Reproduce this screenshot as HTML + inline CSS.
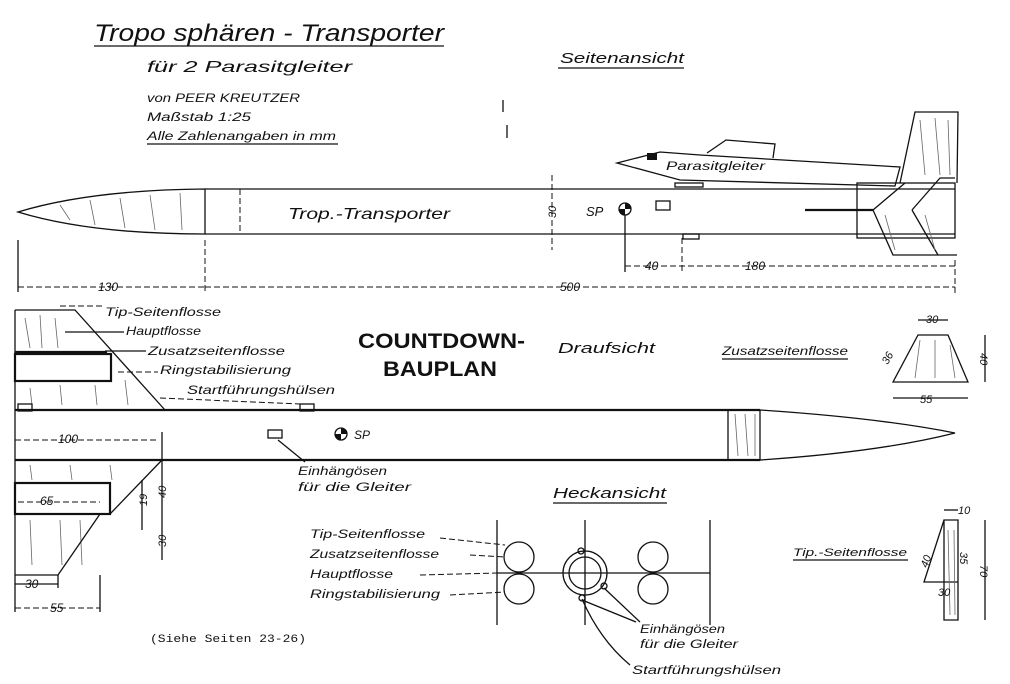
<!DOCTYPE html>
<html><head><meta charset="utf-8"><style>
html,body{margin:0;padding:0;background:#fff}
svg{display:block}
text{font-family:"Liberation Sans",sans-serif;font-style:italic;fill:#111}
.l{stroke:#111;fill:none;stroke-width:1.3}
.t{stroke:#111;fill:none;stroke-width:2.2}
.d{stroke:#111;fill:none;stroke-width:1;stroke-dasharray:6 3}
.h{stroke:#666;stroke-width:0.8}
</style></head><body>
<svg width="1010" height="684" viewBox="0 0 1010 684" xmlns="http://www.w3.org/2000/svg">
<!-- Titles -->
<text x="94" y="41" font-size="24" textLength="350" lengthAdjust="spacingAndGlyphs">Tropo sphären - Transporter</text>
<line x1="94" y1="46" x2="444" y2="46" class="l"/>
<text x="147" y="72" font-size="16" textLength="205" lengthAdjust="spacingAndGlyphs">für  2  Parasitgleiter</text>
<text x="147" y="102" font-size="12" textLength="153" lengthAdjust="spacingAndGlyphs">von PEER  KREUTZER</text>
<text x="147" y="121" font-size="12" textLength="104" lengthAdjust="spacingAndGlyphs">Maßstab  1:25</text>
<text x="147" y="140" font-size="12" textLength="189" lengthAdjust="spacingAndGlyphs">Alle  Zahlenangaben  in mm</text>
<line x1="147" y1="144" x2="338" y2="144" class="l"/>
<text x="560" y="63" font-size="15" textLength="124" lengthAdjust="spacingAndGlyphs">Seitenansicht</text>
<line x1="558" y1="68" x2="684" y2="68" class="l"/>
<line x1="503" y1="100" x2="503" y2="112" class="l"/>
<line x1="507" y1="125" x2="507" y2="138" class="l"/>

<!-- Side view -->
<path d="M18,212 Q90,190 205,189 L205,234 Q90,234 18,212 Z" class="l"/>
<g class="h"><line x1="60" y1="205" x2="70" y2="220"/><line x1="90" y1="200" x2="95" y2="225"/><line x1="120" y1="198" x2="125" y2="228"/><line x1="150" y1="195" x2="155" y2="230"/><line x1="180" y1="193" x2="182" y2="230"/></g>
<line x1="205" y1="189" x2="955" y2="189" class="l"/>
<line x1="205" y1="234" x2="955" y2="234" class="l"/>
<line x1="240" y1="189" x2="240" y2="234" class="d"/>
<text x="288" y="219" font-size="16" textLength="162" lengthAdjust="spacingAndGlyphs">Trop.-Transporter</text>
<line x1="552" y1="175" x2="552" y2="250" class="d"/>
<text x="548" y="218" font-size="11" transform="rotate(-90 552 214)">30</text>
<text x="586" y="216" font-size="13">SP</text>
<circle cx="625" cy="209" r="6" class="l"/><path d="M625,203 A6,6 0 0 1 631,209 L625,209 Z M625,215 A6,6 0 0 1 619,209 L625,209 Z" fill="#111"/>
<rect x="656" y="201" width="14" height="9" class="l"/>
<rect x="683" y="234" width="16" height="5" class="l"/>
<line x1="805" y1="210" x2="873" y2="210" class="t"/>
<rect x="857" y="183" width="98" height="55" class="l"/>
<path d="M873,210 L905,183 M873,210 L893,255 L957,255 M912,210 L938,255 M912,210 L940,178 L955,178" class="l"/>
<path d="M900,183 L915,112 L958,112 L957,183" class="l"/>
<g class="h"><line x1="920" y1="120" x2="925" y2="175"/><line x1="935" y1="118" x2="940" y2="175"/><line x1="948" y1="120" x2="950" y2="175"/><line x1="885" y1="215" x2="895" y2="250"/><line x1="925" y1="215" x2="935" y2="250"/></g>
<!-- glider -->
<path d="M617,163 L660,152 L700,155 L900,167 L895,186 L680,180 Z" class="l"/>
<path d="M707,153 L726,140 L775,144 L773,158" class="l"/>
<rect x="647" y="153" width="10" height="7" fill="#111"/>
<text x="666" y="170" font-size="12" textLength="99" lengthAdjust="spacingAndGlyphs">Parasitgleiter</text>
<rect x="675" y="183" width="28" height="4" class="l"/>
<!-- dims -->
<line x1="18" y1="240" x2="18" y2="292" class="l"/>
<line x1="205" y1="240" x2="205" y2="292" class="d"/>
<line x1="18" y1="287" x2="205" y2="287" class="d"/>
<text x="98" y="291" font-size="12">130</text>
<line x1="205" y1="287" x2="955" y2="287" class="d"/>
<text x="560" y="291" font-size="12">500</text>
<line x1="955" y1="260" x2="955" y2="295" class="d"/>
<line x1="625" y1="215" x2="625" y2="272" class="l"/>
<line x1="682" y1="238" x2="682" y2="272" class="d"/>
<line x1="625" y1="266" x2="955" y2="266" class="d"/>
<text x="645" y="270" font-size="12">40</text>
<text x="745" y="270" font-size="12">180</text>

<!-- Top view -->
<text x="358" y="348" font-size="21" font-weight="bold" style="font-style:normal" textLength="167" lengthAdjust="spacingAndGlyphs">COUNTDOWN-</text>
<text x="383" y="376" font-size="21" font-weight="bold" style="font-style:normal" textLength="114" lengthAdjust="spacingAndGlyphs">BAUPLAN</text>
<text x="558" y="353" font-size="15" textLength="97" lengthAdjust="spacingAndGlyphs">Draufsicht</text>
<line x1="15" y1="310" x2="15" y2="575" class="l"/>
<path d="M15,310 L75,310 L165,410" class="l"/>
<line x1="15" y1="352" x2="107" y2="352" class="t"/>
<rect x="15" y="354" width="96" height="27" class="t"/>
<line x1="15" y1="410" x2="760" y2="410" class="t"/>
<line x1="15" y1="460" x2="760" y2="460" class="t"/>
<path d="M760,410 Q880,418 955,433 Q880,452 760,460" class="l"/>
<rect x="728" y="410" width="32" height="50" class="l"/>
<g class="h"><line x1="735" y1="414" x2="738" y2="456"/><line x1="745" y1="414" x2="748" y2="456"/><line x1="755" y1="414" x2="755" y2="456"/></g>
<g class="h"><line x1="25" y1="318" x2="30" y2="348"/><line x1="40" y1="315" x2="42" y2="348"/><line x1="55" y1="318" x2="58" y2="348"/><line x1="30" y1="388" x2="32" y2="405"/><line x1="60" y1="385" x2="62" y2="405"/><line x1="95" y1="385" x2="97" y2="405"/><line x1="125" y1="380" x2="128" y2="405"/><line x1="30" y1="465" x2="32" y2="480"/><line x1="70" y1="465" x2="72" y2="480"/><line x1="110" y1="465" x2="112" y2="480"/><line x1="30" y1="520" x2="32" y2="565"/><line x1="60" y1="520" x2="62" y2="565"/><line x1="80" y1="520" x2="82" y2="565"/></g>
<rect x="18" y="404" width="14" height="7" class="l"/>
<rect x="300" y="404" width="14" height="7" class="l"/>
<rect x="15" y="483" width="95" height="31" class="t"/>
<path d="M162,460 L110,514 M100,514 L58,575 L15,575" class="l"/>
<line x1="15" y1="440" x2="158" y2="440" class="d"/>
<text x="58" y="443" font-size="12">100</text>
<line x1="162" y1="432" x2="162" y2="460" class="l"/>
<text x="40" y="505" font-size="12">65</text>
<line x1="18" y1="502" x2="100" y2="502" class="d"/>
<line x1="142" y1="480" x2="142" y2="530" class="l"/><text x="136" y="505" font-size="11" transform="rotate(-90 142 500)">19</text>
<line x1="162" y1="460" x2="162" y2="560" class="l"/><text x="156" y="496" font-size="11" transform="rotate(-90 162 492)">40</text><text x="156" y="545" font-size="11" transform="rotate(-90 162 541)">30</text>
<line x1="15" y1="575" x2="15" y2="612" class="l"/><line x1="58" y1="575" x2="58" y2="588" class="l"/><line x1="100" y1="575" x2="100" y2="612" class="l"/>
<line x1="15" y1="584" x2="58" y2="584" class="l"/><text x="25" y="588" font-size="12">30</text>
<line x1="15" y1="608" x2="100" y2="608" class="d"/><text x="50" y="612" font-size="12">55</text>
<g font-size="12">
<text x="105" y="316" textLength="116" lengthAdjust="spacingAndGlyphs">Tip-Seitenflosse</text>
<text x="126" y="335" textLength="75" lengthAdjust="spacingAndGlyphs">Hauptflosse</text>
<text x="148" y="355" textLength="137" lengthAdjust="spacingAndGlyphs">Zusatzseitenflosse</text>
<text x="160" y="374" textLength="131" lengthAdjust="spacingAndGlyphs">Ringstabilisierung</text>
<text x="187" y="394" textLength="148" lengthAdjust="spacingAndGlyphs">Startführungshülsen</text>
</g>
<line x1="60" y1="306" x2="103" y2="306" class="d"/>
<line x1="65" y1="332" x2="124" y2="332" class="l"/>
<line x1="105" y1="351" x2="146" y2="351" class="l"/>
<line x1="118" y1="372" x2="158" y2="372" class="d"/>
<line x1="160" y1="398" x2="300" y2="404" class="d"/>
<rect x="268" y="430" width="14" height="8" class="l"/>
<line x1="278" y1="440" x2="305" y2="462" class="l"/>
<text x="298" y="475" font-size="12" textLength="89" lengthAdjust="spacingAndGlyphs">Einhängösen</text>
<text x="298" y="491" font-size="12" textLength="113" lengthAdjust="spacingAndGlyphs">für die Gleiter</text>
<circle cx="341" cy="434" r="6" class="l"/><path d="M341,428 A6,6 0 0 1 347,434 L341,434 Z M341,440 A6,6 0 0 1 335,434 L341,434 Z" fill="#111"/>
<text x="354" y="439" font-size="12">SP</text>

<!-- Zusatzseitenflosse -->
<text x="722" y="355" font-size="12" textLength="126" lengthAdjust="spacingAndGlyphs">Zusatzseitenflosse</text>
<line x1="722" y1="359" x2="848" y2="359" class="l"/>
<path d="M918,335 L948,335 L968,382 L893,382 Z" class="l"/>
<g class="h"><line x1="920" y1="340" x2="915" y2="378"/><line x1="935" y1="340" x2="935" y2="378"/><line x1="950" y1="345" x2="955" y2="378"/></g>
<line x1="918" y1="320" x2="948" y2="320" class="l"/><text x="926" y="323" font-size="11">30</text>
<line x1="985" y1="335" x2="985" y2="382" class="l"/><text x="980" y="363" font-size="11" transform="rotate(90 985 358)">40</text>
<line x1="893" y1="398" x2="968" y2="398" class="l"/><text x="920" y="403" font-size="11">55</text>
<text x="880" y="358" font-size="11" transform="rotate(-60 890 355)">36</text>

<!-- Heckansicht -->
<text x="553" y="498" font-size="15" textLength="113" lengthAdjust="spacingAndGlyphs">Heckansicht</text>
<line x1="553" y1="503" x2="667" y2="503" class="l"/>
<g font-size="12">
<text x="310" y="538" textLength="115" lengthAdjust="spacingAndGlyphs">Tip-Seitenflosse</text>
<text x="310" y="558" textLength="129" lengthAdjust="spacingAndGlyphs">Zusatzseitenflosse</text>
<text x="310" y="578" textLength="83" lengthAdjust="spacingAndGlyphs">Hauptflosse</text>
<text x="310" y="598" textLength="130" lengthAdjust="spacingAndGlyphs">Ringstabilisierung</text>
</g>
<line x1="497" y1="520" x2="497" y2="625" class="l"/>
<line x1="585" y1="520" x2="585" y2="625" class="l"/>
<line x1="710" y1="520" x2="710" y2="625" class="l"/>
<line x1="497" y1="573" x2="710" y2="573" class="l"/>
<circle cx="519" cy="557" r="15" class="l"/><circle cx="519" cy="589" r="15" class="l"/>
<circle cx="653" cy="557" r="15" class="l"/><circle cx="653" cy="589" r="15" class="l"/>
<circle cx="585" cy="573" r="22" class="l"/><circle cx="585" cy="573" r="16" class="l"/>
<circle cx="582" cy="598" r="3" class="l"/><circle cx="604" cy="586" r="3" class="l"/>
<circle cx="581" cy="551" r="3" class="l"/>
<path d="M582,600 L636,622 M604,588 L640,622" class="l"/>
<path d="M582,599 Q600,640 630,665" class="l"/>
<text x="640" y="633" font-size="12" textLength="85" lengthAdjust="spacingAndGlyphs">Einhängösen</text>
<text x="640" y="648" font-size="12" textLength="98" lengthAdjust="spacingAndGlyphs">für die Gleiter</text>
<text x="632" y="674" font-size="12" textLength="149" lengthAdjust="spacingAndGlyphs">Startführungshülsen</text>
<line x1="440" y1="538" x2="505" y2="545" class="d"/>
<line x1="470" y1="555" x2="505" y2="557" class="d"/>
<line x1="420" y1="575" x2="497" y2="573" class="d"/>
<line x1="450" y1="595" x2="505" y2="592" class="d"/>
<text x="150" y="642" font-size="11" style="font-style:normal;font-family:'Liberation Mono',monospace" textLength="156" lengthAdjust="spacingAndGlyphs">(Siehe Seiten 23-26)</text>

<!-- Tip-Seitenflosse -->
<text x="793" y="556" font-size="11" textLength="114" lengthAdjust="spacingAndGlyphs">Tip.-Seitenflosse</text>
<line x1="793" y1="560" x2="908" y2="560" class="l"/>
<path d="M944,520 L944,620 L958,620 L958,520 Z M944,520 L924,582 L958,582" class="l"/>
<g class="h"><line x1="948" y1="530" x2="950" y2="615"/><line x1="954" y1="530" x2="955" y2="615"/></g>
<line x1="944" y1="510" x2="958" y2="510" class="l"/><text x="958" y="514" font-size="11">10</text>
<line x1="985" y1="520" x2="985" y2="620" class="l"/><text x="980" y="575" font-size="11" transform="rotate(90 985 570)">70</text>
<text x="962" y="560" font-size="11" transform="rotate(90 965 555)">35</text>
<text x="918" y="565" font-size="11" transform="rotate(-70 925 560)">40</text>
<text x="938" y="596" font-size="11">30</text>
</svg>
</body></html>
